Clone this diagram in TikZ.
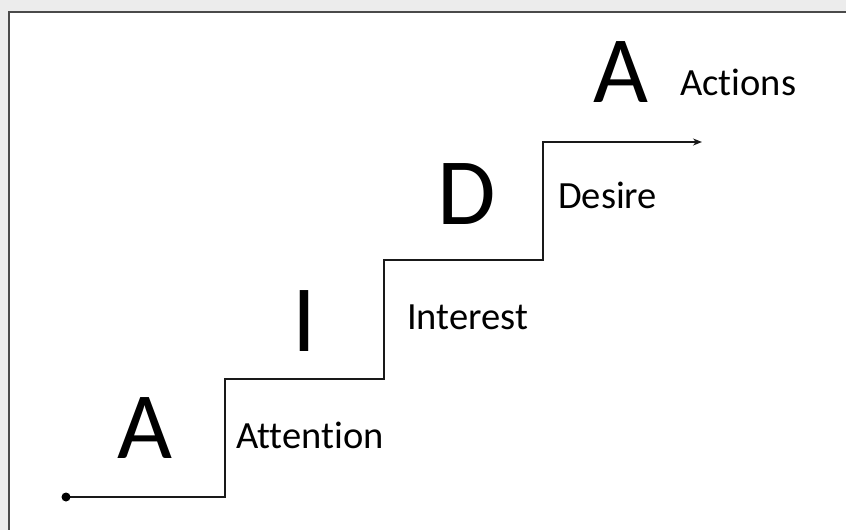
\documentclass[tikz,border=0pt]{standalone}
\usepackage{fontspec}
\setmainfont{Carlito}[Ligatures={NoCommon,NoRare,NoDiscretionary}]
\usetikzlibrary{arrows.meta}
\definecolor{bggray}{HTML}{ECECEC}
\definecolor{framegray}{HTML}{4A4A4A}
\begin{document}
\begin{tikzpicture}[x=1pt,y=-1pt,
  big/.style={inner sep=0pt,anchor=base,font=\fontsize{95}{95}\selectfont},
  lab/.style={inner sep=0pt,anchor=base west,font=\fontsize{38.5}{38.5}\selectfont},
  stair/.style={line width=2.2pt,draw=black!90}]
\useasboundingbox (0,0) rectangle (846,530);
\fill[bggray] (0,0) rectangle (846,530);
\draw[fill=white,draw=framegray,line width=2.2pt] (9,12) rectangle (860,545);
% staircase points
\coordinate (p0) at (66,497);
\coordinate (p1) at (225,497);
\coordinate (p2) at (225,379);
\coordinate (p3) at (384,379);
\coordinate (p4) at (384,260);
\coordinate (p5) at (543,260);
\coordinate (p6) at (543,142);
\coordinate (p7) at (702,142);
\draw[stair,-{Stealth[length=9pt,width=7pt]}] (p0) -- (p1) -- (p2) -- (p3) -- (p4) -- (p5) -- (p6) -- (p7);
\fill[black] (p0) circle (4.5);
% big letters
\node[big] (bA) at (145,458) {A};
\node[big] (bI) at (304,351) {I};
\node[big] (bD) at (467,224) {D};
\node[big] (tA) at (621,102) {A};
% labels
\node[lab] (att) at (236,448) {Attention};
\node[lab] (int) at (407,329) {Interest};
\node[lab] (des) at (558,208) {Desire};
\node[lab] (act) at (680,95) {Actions};
\end{tikzpicture}
\end{document}
